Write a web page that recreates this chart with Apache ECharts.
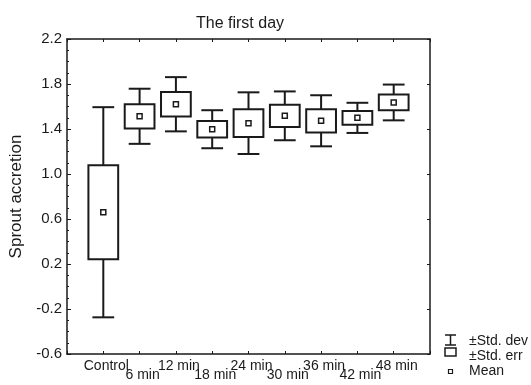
<!DOCTYPE html>
<html>
<head>
<meta charset="utf-8">
<script src="https://cdn.jsdelivr.net/npm/echarts@6/dist/echarts.min.js"></script>
<style>
  html, body { margin: 0; padding: 0; background: #fff; }
  #chart { width: 531px; height: 385px; }
</style>
</head>
<body>
<div id="chart"></div>
<script>
// data
var categories = ['Control', '6 min', '12 min', '18 min', '24 min', '30 min', '36 min', '42 min', '48 min'];
var means   = [0.66, 1.513, 1.62, 1.398, 1.452, 1.517, 1.473, 1.499, 1.636];
var stdErr  = [0.417, 0.108, 0.108, 0.074, 0.123, 0.099, 0.103, 0.061, 0.07];
var stdDev  = [0.934, 0.245, 0.241, 0.169, 0.274, 0.217, 0.227, 0.134, 0.159];
var yTicks  = [-0.6, -0.2, 0.2, 0.6, 1.0, 1.4, 1.8, 2.2];

var ink = '#1a1a1a';
var font = 'Liberation Sans, Arial, sans-serif';

// x position = index + 1 so the categories sit at 1..9 on a 0..10 axis
var rows = means.map(function (m, i) {
    return [i + 1, m, m - stdErr[i], m + stdErr[i], m - stdDev[i], m + stdDev[i]];
});

function renderBox(params, api) {
    var x = api.value(0);
    var mid = api.coord([x, api.value(1)]);
    var seLo = api.coord([x, api.value(2)]);
    var seHi = api.coord([x, api.value(3)]);
    var sdLo = api.coord([x, api.value(4)]);
    var sdHi = api.coord([x, api.value(5)]);
    var boxW = api.size([0.82, 0])[0];
    var capW = api.size([0.6, 0])[0];
    var cx = mid[0];
    var lineStyle = { stroke: ink, lineWidth: 2, fill: null };
    return {
        type: 'group',
        children: [
            { type: 'line', shape: { x1: cx, y1: sdLo[1], x2: cx, y2: sdHi[1] }, style: lineStyle },
            { type: 'line', shape: { x1: cx - capW / 2, y1: sdLo[1], x2: cx + capW / 2, y2: sdLo[1] }, style: lineStyle },
            { type: 'line', shape: { x1: cx - capW / 2, y1: sdHi[1], x2: cx + capW / 2, y2: sdHi[1] }, style: lineStyle },
            { type: 'rect', shape: { x: cx - boxW / 2, y: seHi[1], width: boxW, height: seLo[1] - seHi[1] },
              style: { stroke: ink, lineWidth: 2, fill: '#fff' } },
            { type: 'rect', shape: { x: cx - 2.5, y: mid[1] - 2.5, width: 5, height: 5 },
              style: { stroke: ink, lineWidth: 1.5, fill: '#fff' } }
        ]
    };
}

var chart = echarts.init(document.getElementById('chart'));

var frameLine = { show: true, onZero: false, lineStyle: { color: ink, width: 1.5 } };

var option = {
    animation: false,
    backgroundColor: '#fff',
    title: {
        text: 'The first day',
        left: 191,
        top: 11,
        textStyle: { fontFamily: font, fontSize: 16, fontWeight: 'normal', color: ink }
    },
    grid: { left: 67, right: 101, top: 39, bottom: 31 },
    xAxis: [{
        type: 'value',
        min: 0, max: 10, interval: 1,
        axisLine: frameLine,
        axisTick: { show: true, inside: true, length: 3, lineStyle: { color: ink } },
        splitLine: { show: false },
        axisLabel: {
            margin: 5,
            color: ink,
            fontFamily: font,
            fontSize: 14,
            formatter: function (v) {
                var c = categories[v - 1];
                if (!c) return '';
                return (v % 2 === 1) ? '{a|' + c + '}' : '{b|' + c + '}';
            },
            rich: {
                a: { fontFamily: font, fontSize: 14, color: ink, padding: [0, 0, 0, 6] },
                b: { fontFamily: font, fontSize: 14, color: ink, padding: [9, 0, 0, 6] }
            }
        }
    }, {
        type: 'value',
        position: 'top',
        min: 0, max: 10, interval: 1,
        axisLine: frameLine,
        axisTick: { show: true, inside: true, length: 3, lineStyle: { color: ink } },
        axisLabel: { show: false },
        splitLine: { show: false }
    }],
    yAxis: [{
        type: 'value',
        min: -0.6, max: 2.2, interval: 0.4,
        name: 'Sprout accretion',
        nameLocation: 'middle',
        nameGap: 37,
        nameTextStyle: { fontFamily: font, fontSize: 17, color: ink },
        axisLine: frameLine,
        axisTick: { show: true, inside: true, length: 4, lineStyle: { color: ink } },
        minorTick: { show: true, splitNumber: 4, length: 2, lineStyle: { color: ink } },
        splitLine: { show: false },
        axisLabel: {
            margin: 5,
            color: ink,
            fontFamily: font,
            fontSize: 15,
            formatter: function (v) {
                var t = yTicks.find(function (k) { return Math.abs(k - v) < 1e-6; });
                return t === undefined ? '' : t.toFixed(1);
            }
        }
    }, {
        type: 'value',
        position: 'right',
        min: -0.6, max: 2.2, interval: 0.4,
        axisLine: frameLine,
        axisTick: { show: true, inside: true, length: 3, lineStyle: { color: ink } },
        axisLabel: { show: false },
        splitLine: { show: false }
    }],
    graphic: [
        // legend icons and texts
        { type: 'line', shape: { x1: 445, y1: 335, x2: 456, y2: 335 }, style: { stroke: ink, lineWidth: 1.5 } },
        { type: 'line', shape: { x1: 450.5, y1: 335, x2: 450.5, y2: 345 }, style: { stroke: ink, lineWidth: 1.5 } },
        { type: 'line', shape: { x1: 445, y1: 345, x2: 456, y2: 345 }, style: { stroke: ink, lineWidth: 1.5 } },
        { type: 'rect', shape: { x: 445, y: 348, width: 11, height: 8 }, style: { stroke: ink, lineWidth: 1.5, fill: '#fff' } },
        { type: 'rect', shape: { x: 448.5, y: 369.5, width: 4, height: 4 }, style: { stroke: ink, lineWidth: 1.2, fill: '#fff' } },
        { type: 'text', left: 469, top: 334, style: { text: '\u00b1Std. dev', font: '14px ' + font, fill: ink } },
        { type: 'text', left: 469, top: 349, style: { text: '\u00b1Std. err', font: '14px ' + font, fill: ink } },
        { type: 'text', left: 469, top: 364, style: { text: 'Mean', font: '14px ' + font, fill: ink } }
    ],
    series: [{
        type: 'custom',
        xAxisIndex: 0,
        yAxisIndex: 0,
        clip: false,
        renderItem: renderBox,
        encode: { x: 0, y: [1, 2, 3, 4, 5] },
        data: rows
    }]
};

chart.setOption(option);
</script>
</body>
</html>
